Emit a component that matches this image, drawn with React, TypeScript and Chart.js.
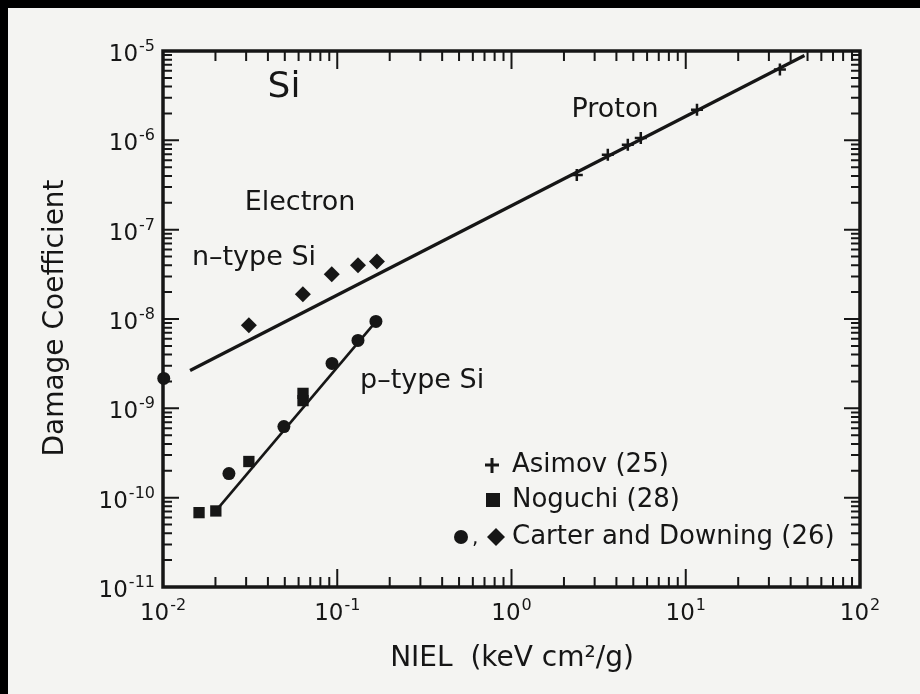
import React, { useEffect, useRef } from "react";
import { Chart, registerables } from "chart.js";

Chart.register(...registerables);

// ---- axis ranges / tick labels ----
const X_MIN = 0.01;
const X_MAX = 100;
const Y_MIN = 1e-11;
const Y_MAX = 1e-5;
const xTickExponents = [-2, -1, 0, 1, 2];
const yTickExponents = [-11, -10, -9, -8, -7, -6, -5];

// ---- fitted lines ----
const electronProtonLineX = [0.0143, 48];
const electronProtonLineY = [2.65e-9, 8.9e-6];
const pTypeLineX = [0.0201, 0.167];
const pTypeLineY = [7.1e-11, 9.4e-9];

// ---- data series ----
const asimovX = [2.37, 3.57, 4.65, 5.52, 11.6, 34.7];
const asimovY = [4.1e-7, 6.9e-7, 8.9e-7, 1.06e-6, 2.2e-6, 6.2e-6];

const noguchiX = [0.0161, 0.0201, 0.0311, 0.0636, 0.0636];
const noguchiY = [6.8e-11, 7.1e-11, 2.54e-10, 1.22e-9, 1.47e-9];

const carterCircleX = [0.0101, 0.0239, 0.0494, 0.0933, 0.1315, 0.1667];
const carterCircleY = [2.16e-9, 1.86e-10, 6.25e-10, 3.18e-9, 5.75e-9, 9.4e-9];

const carterDiamondX = [0.0311, 0.0635, 0.093, 0.1315, 0.169];
const carterDiamondY = [8.5e-9, 1.89e-8, 3.16e-8, 4.0e-8, 4.4e-8];

const legendLabels = ["Asimov (25)", "Noguchi (28)", "Carter and Downing (26)"];

const FONT = "'DejaVu Sans', sans-serif";
const INK = "#161616";

const zip = (xs: number[], ys: number[]) => xs.map((x, i) => ({ x, y: ys[i] }));

function drawPow(ctx: CanvasRenderingContext2D, exp: number, x: number, y: number, align: "center" | "right") {
  const base = "10";
  const sup = exp < 0 ? "-" + Math.abs(exp) : String(exp);
  ctx.font = `23px ${FONT}`;
  const wb = ctx.measureText(base).width;
  ctx.font = `16px ${FONT}`;
  const ws = ctx.measureText(sup).width;
  const total = wb + 1 + ws;
  let start = align === "center" ? x - total / 2 : x - total;
  ctx.textAlign = "left";
  ctx.textBaseline = "alphabetic";
  ctx.font = `23px ${FONT}`;
  ctx.fillText(base, start, y);
  ctx.font = `16px ${FONT}`;
  ctx.fillText(sup, start + wb + 1, y - 10);
}

const paperPlugin = {
  id: "paper",
  beforeDraw(chart: any) {
    const { ctx, width, height } = chart;
    ctx.save();
    ctx.fillStyle = "#f4f4f2";
    ctx.fillRect(0, 0, width, height);
    ctx.fillStyle = "#000";
    ctx.fillRect(0, 0, width, 8);
    ctx.fillRect(0, 0, 8, height);
    ctx.restore();
  },
};

const framePlugin = {
  id: "frame",
  afterDatasetsDraw(chart: any) {
    const { ctx, chartArea } = chart;
    const xs = chart.scales.x;
    const ys = chart.scales.y;
    const { left, right, top, bottom } = chartArea;
    ctx.save();
    ctx.strokeStyle = INK;
    ctx.fillStyle = INK;
    ctx.lineCap = "butt";

    // ticks
    ctx.lineWidth = 2;
    for (let d = -2; d <= 1; d++) {
      for (let m = 1; m <= 9; m++) {
        const v = m * Math.pow(10, d);
        if (v < X_MIN || v > X_MAX) continue;
        const px = xs.getPixelForValue(v);
        const len = m === 1 ? 18 : 10;
        ctx.beginPath();
        ctx.moveTo(px, bottom);
        ctx.lineTo(px, bottom - len);
        ctx.moveTo(px, top);
        ctx.lineTo(px, top + len);
        ctx.stroke();
      }
    }
    for (let d = -11; d <= -6; d++) {
      for (let m = 1; m <= 9; m++) {
        const v = m * Math.pow(10, d);
        if (v < Y_MIN || v > Y_MAX) continue;
        const py = ys.getPixelForValue(v);
        const len = m === 1 ? 16 : 9;
        ctx.beginPath();
        ctx.moveTo(left, py);
        ctx.lineTo(left + len, py);
        ctx.moveTo(right, py);
        ctx.lineTo(right - len, py);
        ctx.stroke();
      }
    }

    // frame
    ctx.lineWidth = 3.5;
    ctx.strokeRect(left, top, right - left, bottom - top);

    // tick labels
    xTickExponents.forEach((e) => {
      const px = xs.getPixelForValue(Math.pow(10, e));
      drawPow(ctx, e, px, bottom + 33, "center");
    });
    yTickExponents.forEach((e) => {
      const py = ys.getPixelForValue(Math.pow(10, e));
      drawPow(ctx, e, left - 8, py + 10, "right");
    });

    // axis titles
    ctx.font = `28px ${FONT}`;
    ctx.textAlign = "center";
    ctx.textBaseline = "middle";
    ctx.fillText("NIEL  (keV cm\u00b2/g)", 512, 659);
    ctx.save();
    ctx.translate(56, 318);
    ctx.rotate(-Math.PI / 2);
    ctx.fillText("Damage Coefficient", 0, 0);
    ctx.restore();

    // annotations
    ctx.font = `36px ${FONT}`;
    ctx.fillText("Si", 284, 88);
    ctx.font = `27px ${FONT}`;
    ctx.fillText("Electron", 300, 203);
    ctx.fillText("n\u2013type Si", 254, 258);
    ctx.fillText("Proton", 615, 110);
    ctx.textAlign = "left";
    ctx.fillText("p\u2013type Si", 360, 381);

    // legend
    const ly = [465, 500, 537];
    ctx.font = `26px ${FONT}`;
    ctx.textAlign = "left";
    ctx.textBaseline = "middle";
    legendLabels.forEach((t, i) => ctx.fillText(t, 512, ly[i]));
    // markers
    ctx.lineWidth = 3;
    ctx.beginPath();
    ctx.moveTo(485, ly[0]);
    ctx.lineTo(499, ly[0]);
    ctx.moveTo(492, ly[0] - 7);
    ctx.lineTo(492, ly[0] + 8);
    ctx.stroke();
    ctx.fillRect(486, ly[1] - 7, 14, 14);
    ctx.beginPath();
    ctx.arc(461, ly[2], 7, 0, Math.PI * 2);
    ctx.fill();
    ctx.font = `20px ${FONT}`;
    ctx.fillText(",", 472, ly[2] + 2);
    ctx.beginPath();
    ctx.moveTo(496, ly[2] - 9);
    ctx.lineTo(505, ly[2]);
    ctx.lineTo(496, ly[2] + 9);
    ctx.lineTo(487, ly[2]);
    ctx.closePath();
    ctx.fill();
    ctx.restore();
  },
};

export default function App() {
  const canvasRef = useRef<HTMLCanvasElement | null>(null);

  useEffect(() => {
    document.body.style.margin = "0";
    const canvas = canvasRef.current;
    if (!canvas) return;
    const chart = new Chart(canvas, {
      type: "scatter",
      data: {
        datasets: [
          {
            label: "Electron/Proton fit",
            data: zip(electronProtonLineX, electronProtonLineY),
            showLine: true,
            borderColor: INK,
            borderWidth: 3.2,
            pointRadius: 0,
          },
          {
            label: "p-type fit",
            data: zip(pTypeLineX, pTypeLineY),
            showLine: true,
            borderColor: INK,
            borderWidth: 2.6,
            pointRadius: 0,
          },
          {
            label: legendLabels[0],
            data: zip(asimovX, asimovY),
            pointStyle: "cross",
            pointRadius: 6,
            borderWidth: 2.5,
            borderColor: INK,
            backgroundColor: INK,
          },
          {
            label: legendLabels[1],
            data: zip(noguchiX, noguchiY),
            pointStyle: "rect",
            pointRadius: 8,
            borderWidth: 0,
            borderColor: INK,
            backgroundColor: INK,
          },
          {
            label: legendLabels[2] + " (p)",
            data: zip(carterCircleX, carterCircleY),
            pointStyle: "circle",
            pointRadius: 6.5,
            borderWidth: 0,
            borderColor: INK,
            backgroundColor: INK,
            clip: false,
          },
          {
            label: legendLabels[2] + " (n)",
            data: zip(carterDiamondX, carterDiamondY),
            pointStyle: "rectRot",
            pointRadius: 8,
            borderWidth: 0,
            borderColor: INK,
            backgroundColor: INK,
          },
        ],
      },
      options: {
        responsive: false,
        animation: false,
        layout: { padding: { left: 163, top: 51, right: 60, bottom: 107 } },
        plugins: { legend: { display: false }, tooltip: { enabled: false } },
        scales: {
          x: { type: "logarithmic", min: X_MIN, max: X_MAX, display: false },
          y: { type: "logarithmic", min: Y_MIN, max: Y_MAX, display: false },
        },
      },
      plugins: [paperPlugin, framePlugin],
    });
    return () => chart.destroy();
  }, []);

  return (
    <div style={{ width: 920, height: 694 }}>
      <canvas ref={canvasRef} width={920} height={694} style={{ display: "block" }} />
    </div>
  );
}
